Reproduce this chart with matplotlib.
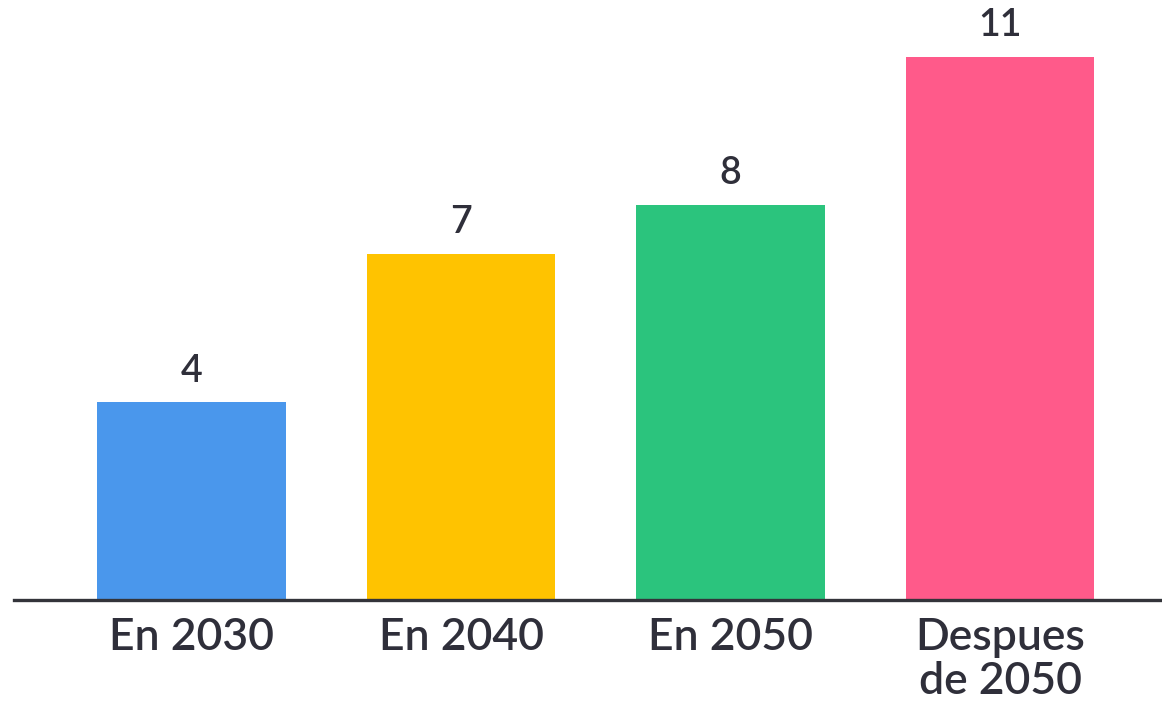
import matplotlib
matplotlib.use("Agg")
import matplotlib.pyplot as plt

categories = ["En 2030", "En 2040", "En 2050", "Despues\nde 2050"]
values = [4, 7, 8, 11]
colors = ["#4A97EC", "#FFC300", "#2BC47D", "#FF5A8A"]

plt.rcParams['font.family'] = ['Lato', 'DejaVu Sans']

fig = plt.figure(figsize=(11.62, 7.07), dpi=100)
ax = fig.add_axes((14 / 1162, 107 / 707, 1148 / 1162, 600 / 707))

x = range(len(values))
bars = ax.bar(x, values, width=0.70, color=colors, zorder=2)

for xi, v in zip(x, values):
    ax.annotate(str(v), (xi, v), xytext=(0, 10), textcoords="offset points",
                ha="center", va="bottom", fontsize=27, fontweight="semibold",
                color="#2f2f3a")

ax.set_xlim(-0.659, 3.601)
ax.set_ylim(0, 12.15)

for s in ["top", "right", "left"]:
    ax.spines[s].set_visible(False)
ax.spines["bottom"].set_color("#33343a")
ax.spines["bottom"].set_linewidth(2.4)
ax.spines["bottom"].set_zorder(3)

ax.set_yticks([])
ax.set_xticks(list(x))
ax.set_xticklabels(categories, fontsize=32, color="#2f2f3a", linespacing=1.1,
                   fontweight="semibold")
ax.tick_params(axis="x", length=0, pad=12)

fig.savefig("out.png", dpi=100)
